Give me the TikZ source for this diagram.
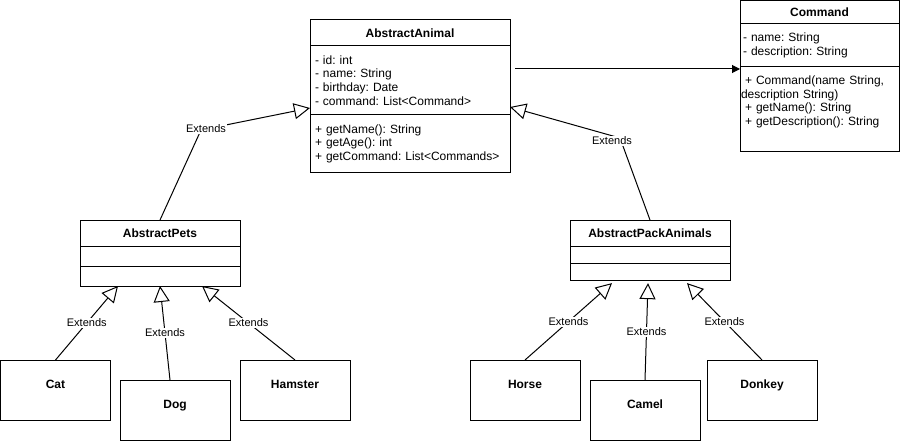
\documentclass[tikz,border=0pt]{standalone}
\usepackage{fontspec}
\setmainfont{Liberation Sans}
\usepackage{tikz}
\usetikzlibrary{positioning}
\usetikzlibrary{arrows.meta}
\frenchspacing

\begin{document}
\begin{tikzpicture}[x=1pt, y=-1pt,
        every node/.style={font=\fontsize{12}{13.6}\selectfont, outer sep=0pt},
        hdr/.style 2 args={draw, line width=1pt, font=\fontsize{12}{13.6}\selectfont\bfseries,
                           minimum width=#1, minimum height=#2, inner sep=0pt, anchor=north west},
        cmp/.style 2 args={draw, line width=1pt, minimum width=#1, minimum height=#2,
                           inner ysep=0pt, align=left},
        leaf/.style={draw, line width=1pt, font=\fontsize{12}{13.6}\selectfont\bfseries,
                     minimum width=110pt, minimum height=60pt, text height=9pt, text depth=11.2pt,
                     inner sep=0pt, anchor=north west},
        lbl/.style={fill=white, font=\fontsize{11}{13}\selectfont, inner sep=1pt},
        ext/.style={line width=1pt, -{Triangle[open, length=16pt, width=16pt]}},
        assoc/.style={line width=1pt, -{Triangle[length=8pt, width=8pt]}}]
            % Frame to keep the page size
            \useasboundingbox                                                  (0,0) rectangle (901,441);
            % AbstractAnimal
            \node[hdr={200pt}{26pt}]                            (animal)       at (310,20) {AbstractAnimal};
            \node[cmp={200pt}{69pt}, text width=190pt, inner xsep=5pt, below=0pt of animal] (animalattr)
                {- id: int\\- name: String\\- birthday: Date\\- command: List<Command>};
            \node[cmp={200pt}{57pt}, text width=190pt, inner xsep=5pt, below=0pt of animalattr] (animalops)
                {+ getName(): String\\+ getAge(): int\\+ getCommand: List<Commands>};
            % Command
            \node[hdr={159pt}{23pt}]                            (cmd)          at (740,1) {Command};
            \node[cmp={159pt}{43pt}, text width=153pt, inner xsep=3pt, below=0pt of cmd] (cmdattr)
                {- name: String\\- description: String};
            \node[cmp={159pt}{84pt}, below=0pt of cmdattr]      (cmdops)       {};
            \node[align=left, text width=158pt, inner xsep=0pt, anchor=west] (cmdtext) at (741,102)
                {\hspace*{4pt}+ Command(name String,\\description String)\\\hspace*{4pt}+ getName(): String\\\hspace*{4pt}+ getDescription(): String};
            % AbstractPets
            \node[hdr={160pt}{26pt}]                            (pets)         at (80,220) {AbstractPets};
            \node[cmp={160pt}{20pt}, below=0pt of pets]         (petsattr)     {};
            \node[cmp={160pt}{20pt}, below=0pt of petsattr]     (petsops)      {};
            % AbstractPackAnimals
            \node[hdr={160pt}{26.7pt}]                          (pack)         at (570,220) {AbstractPackAnimals};
            \node[cmp={160pt}{16.7pt}, below=0pt of pack]       (packattr)     {};
            \node[cmp={160pt}{16.7pt}, below=0pt of packattr]   (packops)      {};
            % Animals
            \node[leaf]                                         (cat)          at (0.5,360) {Cat};
            \node[leaf]                                         (dog)          at (120,380) {Dog};
            \node[leaf]                                         (hamster)      at (240,360) {Hamster};
            \node[leaf]                                         (horse)        at (470,360) {Horse};
            \node[leaf]                                         (camel)        at (590,380) {Camel};
            \node[leaf]                                         (donkey)       at (707,360) {Donkey};
            % Association to Command
            \coordinate                                         (assocstart)   at (515,69);
            \draw[assoc] (assocstart) -- (assocstart -| cmdattr.west);
            % Extends to AbstractAnimal
            \coordinate                                         (petsbend)     at (201,130);
            \coordinate                                         (packbend)     at (620,138);
            \draw[ext] (pets.north) -- (petsbend) -- (animalattr.west |- 0,108);
            \draw[ext] (pack.north) -- (packbend) -- (animalattr.east |- 0,107);
            \node[lbl]                                          (petsext)      at (206,129) {Extends};
            \node[lbl]                                          (packext)      at (612,141) {Extends};
            % Extends to AbstractPets
            \draw[ext] (cat.north) -- node[lbl] (catext) {Extends} ([xshift=-42pt]petsops.south);
            \draw[ext] ([xshift=-5pt]dog.north) -- node[lbl] (dogext) {Extends} (petsops.south);
            \draw[ext] (hamster.north) -- node[lbl] (hamsterext) {Extends} ([xshift=42pt]petsops.south);
            % Extends to AbstractPackAnimals
            \draw[ext] (horse.north) -- node[lbl] (horseext) {Extends} ([xshift=-38pt, yshift=-3pt]packops.south);
            \draw[ext] (camel.north) -- node[lbl] (camelext) {Extends} ([xshift=-2pt, yshift=-3pt]packops.south);
            \draw[ext] (donkey.north) -- node[lbl] (donkeyext) {Extends} ([xshift=37pt, yshift=-3pt]packops.south);
\end{tikzpicture}
\end{document}
